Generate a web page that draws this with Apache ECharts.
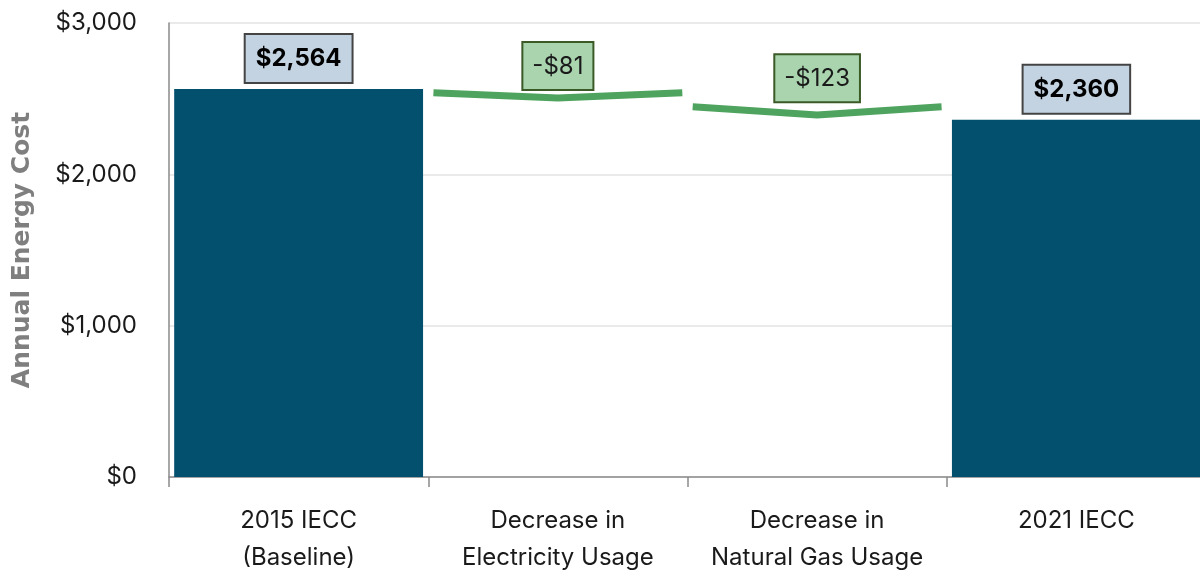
<!DOCTYPE html>
<html>
<head>
<meta charset="utf-8">
<script src="https://cdn.jsdelivr.net/npm/echarts@6/dist/echarts.min.js"></script>
<style>
  html, body { margin: 0; padding: 0; background: #fff; overflow: hidden; }
  #chart { width: 1206px; height: 577px; }
</style>
</head>
<body>
<div id="chart"></div>
<script>
var categories = ['2015 IECC\n(Baseline)', 'Decrease in\nElectricity Usage', 'Decrease in\nNatural Gas Usage', '2021 IECC'];
var totals = [2564, null, null, 2360];
var changes = [null, -81, -123, null];
var yTicks = [0, 1000, 2000, 3000];

var FONT = 'Inter, "Open Sans", sans-serif';

// running start / end for each decrease step
var steps = [];
var running = totals[0];
changes.forEach(function (c, i) {
    if (c === null) return;
    steps.push([i, running, running + c, c]);
    running += c;
});

var money = function (v) {
    var s = '$' + Math.abs(v).toLocaleString('en-US');
    return v < 0 ? '-' + s : s;
};

// plot runs slightly past the right edge of the window, like the original
var chart = echarts.init(document.getElementById('chart'));
var option = {
    animation: false,
    grid: { left: 169, right: 0, top: 23, bottom: 100 },
    xAxis: {
        type: 'category',
        data: categories,
        axisLine: { lineStyle: { color: '#8a8a8a', width: 1.5 } },
        axisTick: { show: true, length: 10, lineStyle: { color: '#8a8a8a', width: 1.5 } },
        axisLabel: { interval: 0, color: '#1a1a1a', fontSize: 24, fontFamily: FONT, lineHeight: 37, margin: 25 }
    },
    yAxis: {
        type: 'value',
        min: 0, max: 3000, interval: 1000,
        name: 'Annual Energy Cost',
        nameLocation: 'middle',
        nameGap: 134,
        nameTextStyle: { color: '#7f7f7f', fontSize: 25, fontWeight: 'bold', fontFamily: '"DejaVu Sans", sans-serif' },
        axisLine: { show: true, lineStyle: { color: '#8a8a8a', width: 1.5 } },
        axisTick: { show: false },
        splitLine: { lineStyle: { color: '#e3e3e3', width: 1.5 } },
        axisLabel: {
            color: '#1a1a1a', fontSize: 24, fontFamily: FONT, margin: 32,
            formatter: function (v) { return yTicks.indexOf(v) >= 0 ? money(v) : ''; }
        }
    },
    series: [
        {
            type: 'bar',
            data: totals,
            barWidth: '96%',
            itemStyle: { color: '#034f6e' },
            label: {
                show: true,
                position: 'top',
                distance: 7,
                formatter: function (p) { return money(p.value); },
                color: '#000',
                fontSize: 24,
                fontWeight: 'bold',
                fontFamily: FONT,
                backgroundColor: '#c3d3e2',
                borderColor: '#444',
                borderWidth: 2,
                padding: [12, 10, 11, 10]
            }
        },
        {
            type: 'custom',
            data: steps,
            renderItem: function (params, api) {
                var idx = api.value(0);
                var start = api.value(1);
                var end = api.value(2);
                var delta = start - end;
                var band = api.size([1, 0])[0];
                var cx = api.coord([idx, start])[0];
                var half = band * 0.48;
                var yEdge = api.coord([idx, start - delta * 0.3])[1];
                var yMid = api.coord([idx, start - delta * 0.74])[1];
                var yTop = api.coord([idx, start])[1];
                return {
                    type: 'group',
                    children: [
                        {
                            type: 'polyline',
                            shape: { points: [[cx - half, yEdge], [cx, yMid], [cx + half, yEdge]] },
                            style: { stroke: '#4ea35e', lineWidth: 7, fill: null, lineJoin: 'miter' }
                        },
                        {
                            type: 'text',
                            x: cx,
                            y: yTop,
                            style: {
                                text: money(api.value(3)),
                                align: 'center',
                                verticalAlign: 'bottom',
                                fill: '#1a1a1a',
                                font: '24px ' + FONT,
                                backgroundColor: '#a9d4ae',
                                borderColor: '#3a5a26',
                                borderWidth: 2,
                                padding: [12, 9, 10, 9]
                            }
                        }
                    ]
                };
            }
        }
    ]
};
chart.setOption(option);
</script>
</body>
</html>
